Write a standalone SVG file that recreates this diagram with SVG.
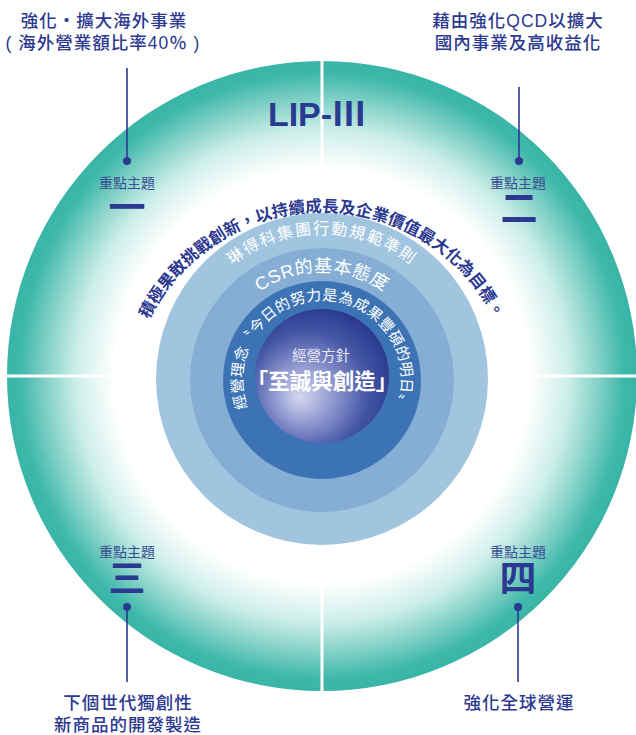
<svg xmlns="http://www.w3.org/2000/svg" width="636" height="735" viewBox="0 0 636 735">
<defs>
<radialGradient id="ringGrad" cx="322" cy="376" r="315" gradientUnits="userSpaceOnUse">
<stop offset="0" stop-color="#ffffff"/>
<stop offset="0.66" stop-color="#ffffff"/>
<stop offset="0.78" stop-color="#cdeee9"/>
<stop offset="0.88" stop-color="#80d0c5"/>
<stop offset="0.96" stop-color="#3db8aa"/>
<stop offset="1" stop-color="#39b5a7"/>
</radialGradient>
<radialGradient id="sphereGrad" cx="0.42" cy="0.6" r="0.62" fx="0.33" fy="0.66">
<stop offset="0" stop-color="#d6d8ef"/>
<stop offset="0.35" stop-color="#9099d0"/>
<stop offset="0.72" stop-color="#4556a6"/>
<stop offset="1" stop-color="#2b3a8e"/>
</radialGradient>
<path id="arcOuter" d="M 129 405 A 193 193 0 0 1 515 405"/>
<path id="arcCode" d="M 177 379 A 145 145 0 0 1 467 379"/>
<path id="arcCSR" d="M 214 380 A 108 108 0 0 1 430 380"/>
<path id="arcMotto" d="M 276.4 445.1 A 79.5 79.5 0 1 1 367.6 445.1"/>
</defs>
<style>
.cjk{font-family:"Liberation Sans","Noto Sans CJK TC","Noto Sans CJK SC",sans-serif;}
.cjkf{font-family:"Noto Sans CJK TC","Noto Sans CJK SC",sans-serif;}
.lbl{font-size:17.5px;fill:#2b3990;font-weight:500;letter-spacing:1px;text-anchor:middle;}
.theme{font-size:14px;fill:#3a4d92;text-anchor:middle;}
.num{font-size:37px;fill:#2b3990;font-weight:bold;text-anchor:middle;}
.lead{stroke:#2b3990;stroke-width:1.6;fill:none;}
.dot{fill:#2b3990;}
.arcw{fill:#ffffff;text-anchor:middle;}
</style>

<g id="ring">
<circle cx="322" cy="376" r="315" fill="url(#ringGrad)"/>
<line x1="322" y1="55" x2="322" y2="700" stroke="#ffffff" stroke-width="3"/>
<line x1="0" y1="376" x2="640" y2="376" stroke="#ffffff" stroke-width="3"/>
</g>

<g id="discs">
<circle cx="322" cy="379" r="166" fill="#a2c5df"/>
<circle cx="322" cy="380" r="132" fill="#86aed5"/>
<circle cx="322" cy="380" r="99" fill="#3c73b4"/>
<circle cx="322" cy="376" r="67" fill="url(#sphereGrad)"/>
</g>

<g id="title">
<text class="cjk" x="317" y="126" font-size="34" font-weight="bold" fill="#2b3990" text-anchor="middle">LIP-<tspan class="cjkf">Ⅲ</tspan></text>
</g>

<g id="arc-texts">
<text class="cjk" font-size="16.5" font-weight="bold" fill="#2b3990" text-anchor="middle"><textPath href="#arcOuter" startOffset="50%">積極果敢挑戰創新，以持續成長及企業價值最大化為目標。</textPath></text>
<text class="cjk arcw" font-size="16" letter-spacing="1.6"><textPath href="#arcCode" startOffset="50%">琳得科集團行動規範準則</textPath></text>
<text class="cjk arcw" font-size="18" letter-spacing="0.6"><textPath href="#arcCSR" startOffset="50%">CSR的基本態度</textPath></text>
<text class="cjk arcw" font-size="15" letter-spacing="0.3"><textPath href="#arcMotto" startOffset="50%">經營理念〝今日的努力是為成果豐碩的明日〟</textPath></text>
</g>

<g id="center">
<text class="cjk" x="321" y="361" font-size="14.5" fill="#e8e8f4" text-anchor="middle">經營方針</text>
<text class="cjk" x="322" y="389" font-size="21.5" font-weight="bold" fill="#ffffff" text-anchor="middle">「至誠與創造」</text>
</g>

<g id="connectors">
<line class="lead" x1="127" y1="68" x2="127" y2="161"/>
<circle class="dot" cx="127" cy="161" r="4"/>
<line class="lead" x1="519" y1="87" x2="519" y2="161"/>
<circle class="dot" cx="519" cy="161" r="4"/>
<line class="lead" x1="127" y1="607" x2="127" y2="682"/>
<circle class="dot" cx="127" cy="607" r="4"/>
<line class="lead" x1="518" y1="607" x2="518" y2="682"/>
<circle class="dot" cx="518" cy="607" r="4"/>
</g>

<g id="theme1">
<text class="cjk lbl" x="104" y="27">強化・擴大海外事業</text>
<text class="cjk lbl" x="103" y="49" letter-spacing="1.4">( 海外營業額比率40％ )</text>
<text class="cjk theme" x="127" y="188">重點主題</text>
<text class="cjk num" x="127" y="221">一</text>
</g>

<g id="theme2">
<text class="cjk lbl" x="518" y="27">藉由強化QCD以擴大</text>
<text class="cjk lbl" x="518" y="49">國內事業及高收益化</text>
<text class="cjk theme" x="518" y="188">重點主題</text>
<text class="cjk num" x="519" y="222">二</text>
</g>

<g id="theme3">
<text class="cjk theme" x="127" y="557">重點主題</text>
<text class="cjk num" x="127" y="592">三</text>
<text class="cjk lbl" x="128" y="709">下個世代獨創性</text>
<text class="cjk lbl" x="128" y="731">新商品的開發製造</text>
</g>

<g id="theme4">
<text class="cjk theme" x="518" y="557">重點主題</text>
<text class="cjk num" x="518" y="592">四</text>
<text class="cjk lbl" x="519" y="709">強化全球營運</text>
</g>
</svg>
